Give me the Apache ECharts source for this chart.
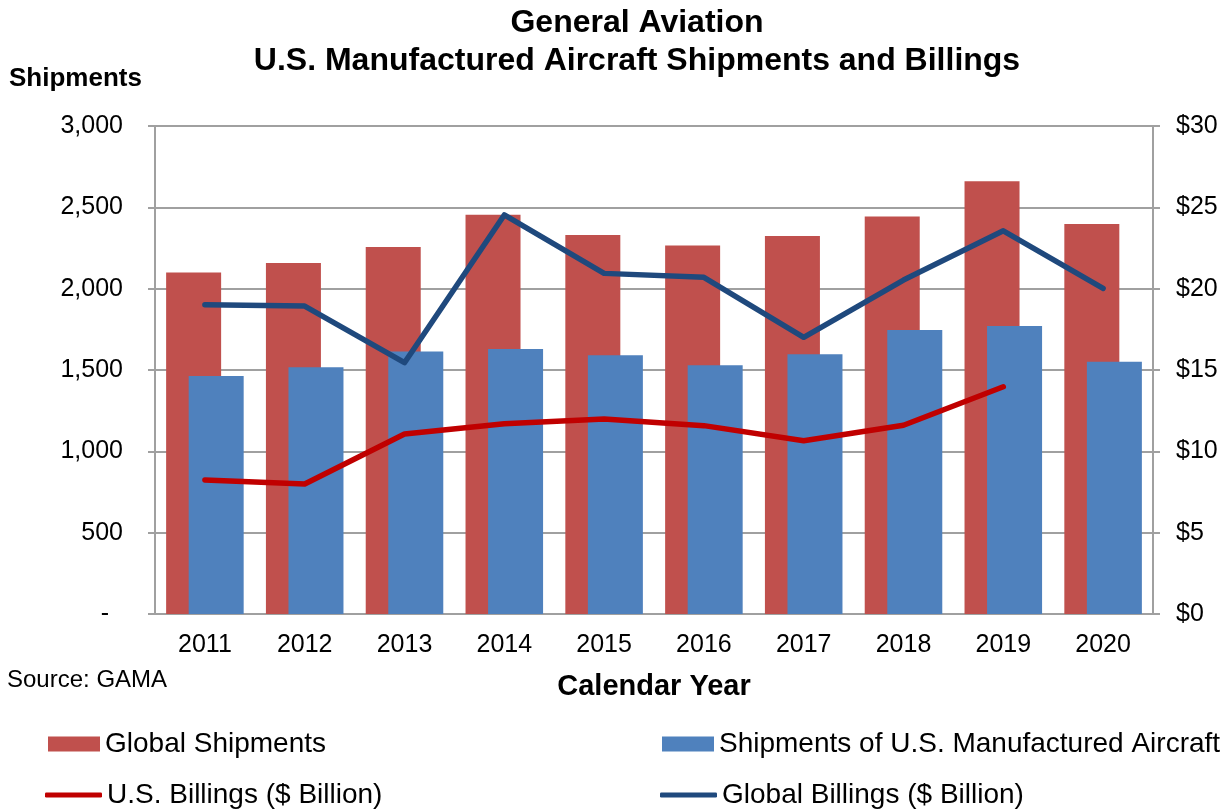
<!DOCTYPE html>
<html>
<head>
<meta charset="utf-8">
<script src="https://cdn.jsdelivr.net/npm/echarts@6/dist/echarts.min.js"></script>
<style>
    html, body { margin: 0; padding: 0; background: #fff; }
    #chart { width: 1231px; height: 809px; }
</style>
</head>
<body>
<div id="chart"></div>
<script>
const years = ['2011', '2012', '2013', '2014', '2015', '2016', '2017', '2018', '2019', '2020'];
const globalShipments = [2100, 2158, 2256, 2455, 2330, 2266, 2324, 2443, 2660, 2398];
const usShipments = [1463, 1517, 1613, 1629, 1590, 1529, 1597, 1746, 1770, 1551];
const usBillings = [8.24, 7.99, 11.07, 11.7, 11.99, 11.58, 10.65, 11.6, 13.97, null];
const globalBillings = [19.01, 18.93, 15.45, 24.53, 20.94, 20.7, 17.01, 20.53, 23.56, 20.02];

const font = 'Liberation Sans, Arial, sans-serif';
const gridColor = '#a0a0a0';
const legendText = { fontFamily: font, fontSize: 28, color: '#000' };

// one legend per item so that each one can sit where the original has it
function legendItem(name, left, top, isLine) {
    return {
        left: left,
        top: top,
        padding: 0,
        itemWidth: isLine ? 57 : 52,
        itemHeight: isLine ? 5 : 15,
        icon: isLine ? 'roundRect' : 'rect',
        data: [name],
        textStyle: legendText
    };
}

const chart = echarts.init(document.getElementById('chart'));

const option = {
    animation: false,
    textStyle: { fontFamily: font, color: '#000' },
    title: [
        {
            text: 'General Aviation\nU.S. Manufactured Aircraft Shipments and Billings',
            left: 637,
            top: 4,
            padding: 0,
            textAlign: 'center',
            textStyle: { fontFamily: font, fontSize: 32, fontWeight: 'bold', lineHeight: 38, color: '#000' }
        },
        {
            text: 'Shipments',
            left: 9,
            top: 66,
            padding: 0,
            textStyle: { fontFamily: font, fontSize: 26, fontWeight: 'bold', color: '#000' }
        },
        {
            text: 'Source: GAMA',
            left: 7,
            top: 668,
            padding: 0,
            textStyle: { fontFamily: font, fontSize: 24, fontWeight: 'normal', color: '#000' }
        },
        {
            text: 'Calendar Year',
            left: 654,
            top: 672,
            padding: 0,
            textAlign: 'center',
            textStyle: { fontFamily: font, fontSize: 29, fontWeight: 'bold', color: '#000' }
        }
    ],
    legend: [
        legendItem('Global Shipments', 48, 730, false),
        legendItem('U.S. Billings ($ Billion)', 45, 781, true),
        legendItem('Shipments of U.S. Manufactured Aircraft', 662, 730, false),
        legendItem('Global Billings ($ Billion)', 660, 781, true)
    ],
    grid: {
        left: 155,
        right: 78,
        top: 126,
        bottom: 195
    },
    xAxis: {
        type: 'category',
        data: years,
        axisLine: { lineStyle: { color: gridColor, width: 2 } },
        axisTick: { show: false },
        axisLabel: { fontFamily: font, fontSize: 25, color: '#000', margin: 19 }
    },
    yAxis: [
        {
            type: 'value',
            min: 0,
            max: 3000,
            interval: 500,
            axisLine: { show: true, lineStyle: { color: gridColor, width: 2 } },
            axisTick: { show: true, length: 7, lineStyle: { color: gridColor, width: 2 } },
            splitLine: { lineStyle: { color: gridColor, width: 2 } },
            axisLabel: {
                fontFamily: font,
                fontSize: 25,
                color: '#000',
                margin: 32,
                formatter: v => v === 0 ? '-  ' : v.toLocaleString('en-US')
            }
        },
        {
            type: 'value',
            min: 0,
            max: 30,
            interval: 5,
            position: 'right',
            axisLine: { show: true, lineStyle: { color: gridColor, width: 2 } },
            axisTick: { show: true, length: 7, lineStyle: { color: gridColor, width: 2 } },
            splitLine: { show: false },
            axisLabel: {
                fontFamily: font,
                fontSize: 25,
                color: '#000',
                margin: 23,
                formatter: v => '$' + v
            }
        }
    ],
    series: [
        {
            name: 'Global Shipments',
            type: 'bar',
            data: globalShipments,
            barWidth: 55,
            barGap: '-59%',
            itemStyle: { color: '#C0504D' }
        },
        {
            name: 'Shipments of U.S. Manufactured Aircraft',
            type: 'bar',
            data: usShipments,
            barWidth: 55,
            barGap: '-59%',
            itemStyle: { color: '#4F81BD' }
        },
        {
            name: 'U.S. Billings ($ Billion)',
            type: 'line',
            yAxisIndex: 1,
            data: usBillings,
            symbol: 'none',
            lineStyle: { color: '#C00000', width: 5.5, cap: 'round', join: 'round' },
            itemStyle: { color: '#C00000' }
        },
        {
            name: 'Global Billings ($ Billion)',
            type: 'line',
            yAxisIndex: 1,
            data: globalBillings,
            symbol: 'none',
            lineStyle: { color: '#1F497D', width: 5.5, cap: 'round', join: 'round' },
            itemStyle: { color: '#1F497D' }
        }
    ]
};

chart.setOption(option);
</script>
</body>
</html>
